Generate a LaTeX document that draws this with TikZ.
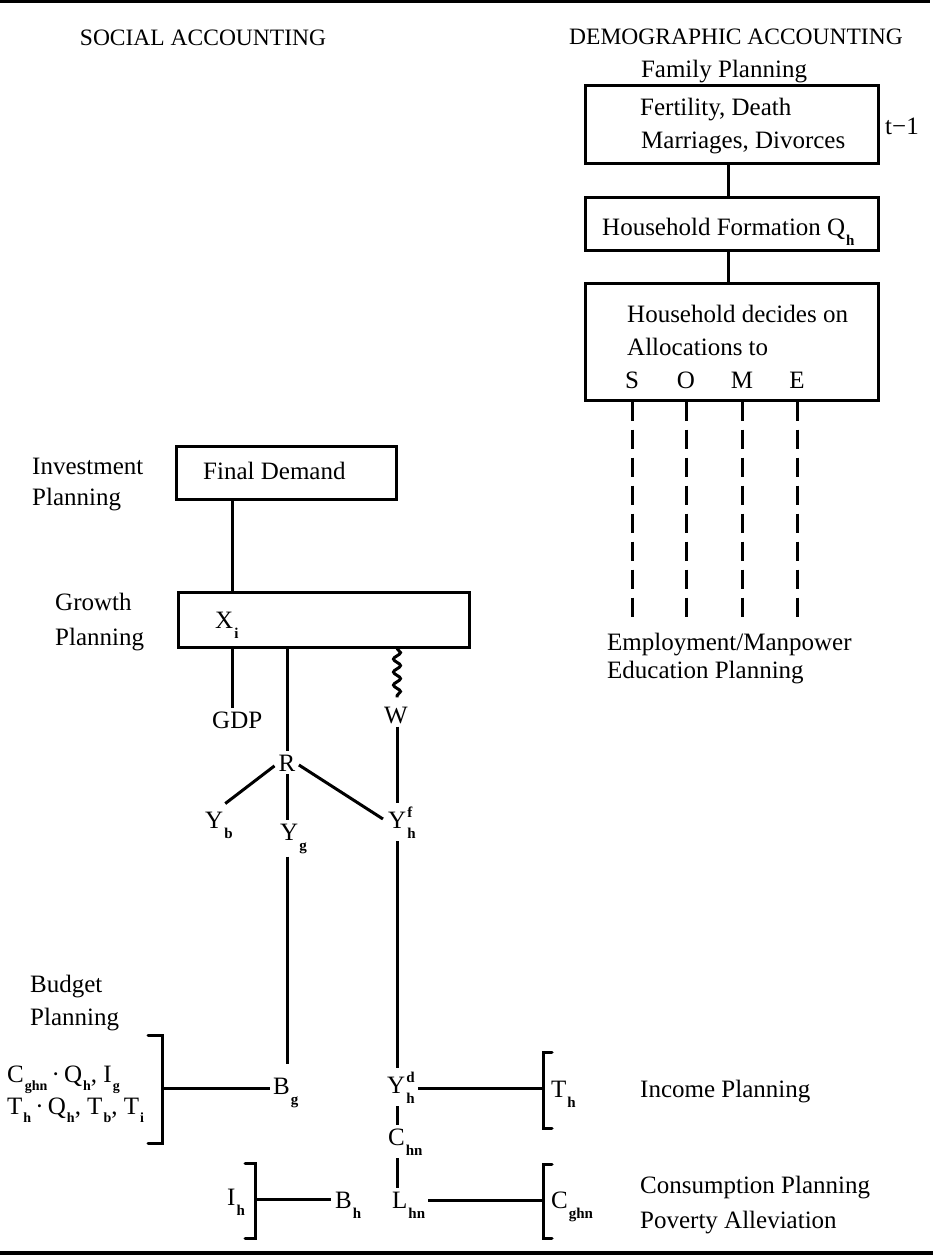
\documentclass[tikz,border=0pt]{standalone}
\usepackage{fontspec}
\setmainfont{Liberation Serif}
\usetikzlibrary{decorations.pathmorphing,calc}
\newcommand\mysub[1]{\kern1pt\raisebox{-10pt}{\fontsize{15}{15}\selectfont\bfseries #1}}
\newcommand\mysubf[1]{\kern1pt\raisebox{-8pt}{\fontsize{14}{14}\selectfont\bfseries #1}}
\newcommand\mysubsup[2]{\kern1pt\rlap{\raisebox{11pt}{\fontsize{15}{15}\selectfont\bfseries #2}}\raisebox{-10pt}{\fontsize{15}{15}\selectfont\bfseries #1}}
\begin{document}
\begin{tikzpicture}[x=1pt,y=-1pt,
  font=\fontsize{25}{32}\selectfont,
  ln/.style={line width=3pt},
  rule/.style={line width=3.2pt},
  box/.style={draw, line width=3pt, inner sep=0pt},
  lab/.style={inner xsep=0pt, inner ysep=3pt, anchor=base west},
  clab/.style={inner xsep=0pt, inner ysep=3pt, anchor=base},
  flab/.style={inner sep=0pt, anchor=base west},
  head/.style={inner sep=0pt, anchor=base, font=\fontsize{23.5}{28}\selectfont},
  dsh/.style={line width=3pt, dash pattern=on 19pt off 9pt},
  brk/.style={line width=3pt, line cap=round, line join=miter}
]
\useasboundingbox (0,0) rectangle (933,1256);

% rules
\coordinate (tl) at (0,1.5); \coordinate (tr) at (930,1.5);
\coordinate (bl) at (0,1253); \coordinate (br) at (933,1253);
\draw[rule] (tl) -- (tr);
\draw[rule] (bl) -- (br);

% column helpers
\coordinate (spine) at (728,0);
\coordinate (colA) at (232.5,0);
\coordinate (colW) at (397,0);
\coordinate (dend) at (0,618);

% headings
\node[head] (sochead) at (203,45) {SOCIAL ACCOUNTING};
\node[head] (demhead) at (736,44) {DEMOGRAPHIC ACCOUNTING};
\node[clab] (famplan) at (724,77) {Family Planning};

% demographic boxes
\node[box, minimum width=293, minimum height=78] (b1) at (731.5,124) {};
\node[lab] (b1l1) at (640,115) {Fertility, Death};
\node[lab] (b1l2) at (641,148) {Marriages, Divorces};
\node[lab] (tm1) at (885,134) {t−1};

\node[box, minimum width=293, minimum height=53] (b2) at (731.5,223.5) {};
\node[lab] (b2t) at (602,235) {Household Formation Q\mysub{h}};

\node[box, minimum width=293, minimum height=117] (b3) at (731.5,341.5) {};
\node[lab] (b3l1) at (627,322) {Household decides on};
\node[lab] (b3l2) at (627,355) {Allocations to};
\node[clab] (S) at (632,388) {S};
\node[clab] (O) at (686,388) {O};
\node[clab] (M) at (742,388) {M};
\node[clab] (E) at (797,388) {E};

\draw[ln] (b1.south -| spine) -- (b2.north -| spine);
\draw[ln] (b2.south -| spine) -- (b3.north -| spine);

\foreach \n in {S,O,M,E}
  \draw[dsh] (\n |- b3.south) -- (\n |- dend);

\node[lab] (emp1) at (607,650) {Employment/Manpower};
\node[lab] (emp2) at (607,678) {Education Planning};

% social accounting side
\node[lab] (inv1) at (32,474) {Investment};
\node[lab] (inv2) at (32,505) {Planning};
\node[box, minimum width=220, minimum height=53] (FD) at (286,472.5) {};
\node[lab] (FDt) at (203,479) {Final Demand};

\node[lab] (gro1) at (55,610) {Growth};
\node[lab] (gro2) at (55,645) {Planning};
\node[box, minimum width=291, minimum height=55] (growth) at (323.5,619.5) {};
\node[lab] (Xi) at (215,628) {X\mysub{i}};

\draw[ln] (FD.south -| colA) -- (growth.north -| colA);

\node[lab] (GDP) at (212,728) {GDP};
\node[clab] (W) at (396,723) {W};
\node[clab] (R) at (287,771) {R};

\draw[ln] (growth.south -| colA) -- (GDP.north -| colA);
\draw[ln] (growth.south -| R) -- (R.north);
\draw[ln, decorate, decoration={snake, amplitude=3.5pt, segment length=13pt}]
  (growth.south -| colW) -- ($(W.north -| colW)+(0,-6)$);

\node[lab] (Yb) at (205,828) {Y\mysub{b}};
\node[lab] (Yg) at (280,840) {Y\mysub{g}};
\node[lab] (Yhf) at (388,828) {Y\mysubsup{h}{f}};

\draw[ln] (W.south -| colW) -- (Yhf.north -| colW);
\draw[ln, shorten <=5pt, shorten >=8pt] (R.west) -- (Yb.north);
\draw[ln] (R.south) -- (Yg.north -| R);
\draw[ln, shorten <=4pt, shorten >=6pt] (R.east) -- (Yhf.west);

% budget planning
\node[lab] (bud1) at (30,992) {Budget};
\node[lab] (bud2) at (30,1025) {Planning};
\node[flab] (form1) at (7,1082) {C\mysubf{ghn}\,·\,Q\mysubf{h}, I\mysubf{g}};
\node[flab] (form2) at (7,1114) {T\mysubf{h}\,·\,Q\mysubf{h}, T\mysubf{b}, T\mysubf{i}};
\node[lab] (Bg) at (273,1094) {B\mysub{g}};

\draw[ln, shorten >=10pt] (Yg.south -| R) -- (Bg.north -| R);

\coordinate (lbm) at (162,1088);
\draw[brk] (148,1035) -- (162,1035) -- (162,1143) -- (148,1143);
\draw[ln, shorten >=3pt] (lbm) -- (Bg.west |- lbm);

% household income column
\node[lab] (Yhd) at (387,1093) {Y\mysubsup{h}{d}};
\node[lab] (Chn) at (388,1145) {C\mysub{hn}};
\node[lab] (Lhn) at (392,1208) {L\mysub{hn}};
\node[lab] (Bh) at (335,1208) {B\mysub{h}};
\node[lab] (Ih) at (227,1205) {I\mysub{h}};
\node[lab] (Th) at (551,1097) {T\mysub{h}};
\node[lab] (Cghn) at (551,1208) {C\mysub{ghn}};
\node[lab] (inc) at (640,1097) {Income Planning};
\node[lab] (cons1) at (640,1193) {Consumption Planning};
\node[lab] (cons2) at (640,1228) {Poverty Alleviation};

\draw[ln] (Yhf.south -| colW) -- (Yhd.north -| colW);
\draw[ln] (Yhd.south -| colW) -- (Chn.north -| colW);
\draw[ln] (Chn.south -| colW) -- (Lhn.north -| colW);

\coordinate (thm) at (543,1088);
\draw[brk] (552,1052) -- (543,1052) -- (543,1128) -- (552,1128);
\draw[ln, shorten <=3pt] (Yhd.east |- thm) -- (thm);

\coordinate (cgm) at (543,1200);
\draw[brk] (552,1164) -- (543,1164) -- (543,1238) -- (552,1238);
\draw[ln, shorten <=3pt] (Lhn.east |- cgm) -- (cgm);

\coordinate (ihm) at (255,1199);
\draw[brk] (245,1163) -- (255,1163) -- (255,1238) -- (245,1238);
\draw[ln, shorten >=4pt] (ihm) -- (Bh.west |- ihm);
\end{tikzpicture}
\end{document}
